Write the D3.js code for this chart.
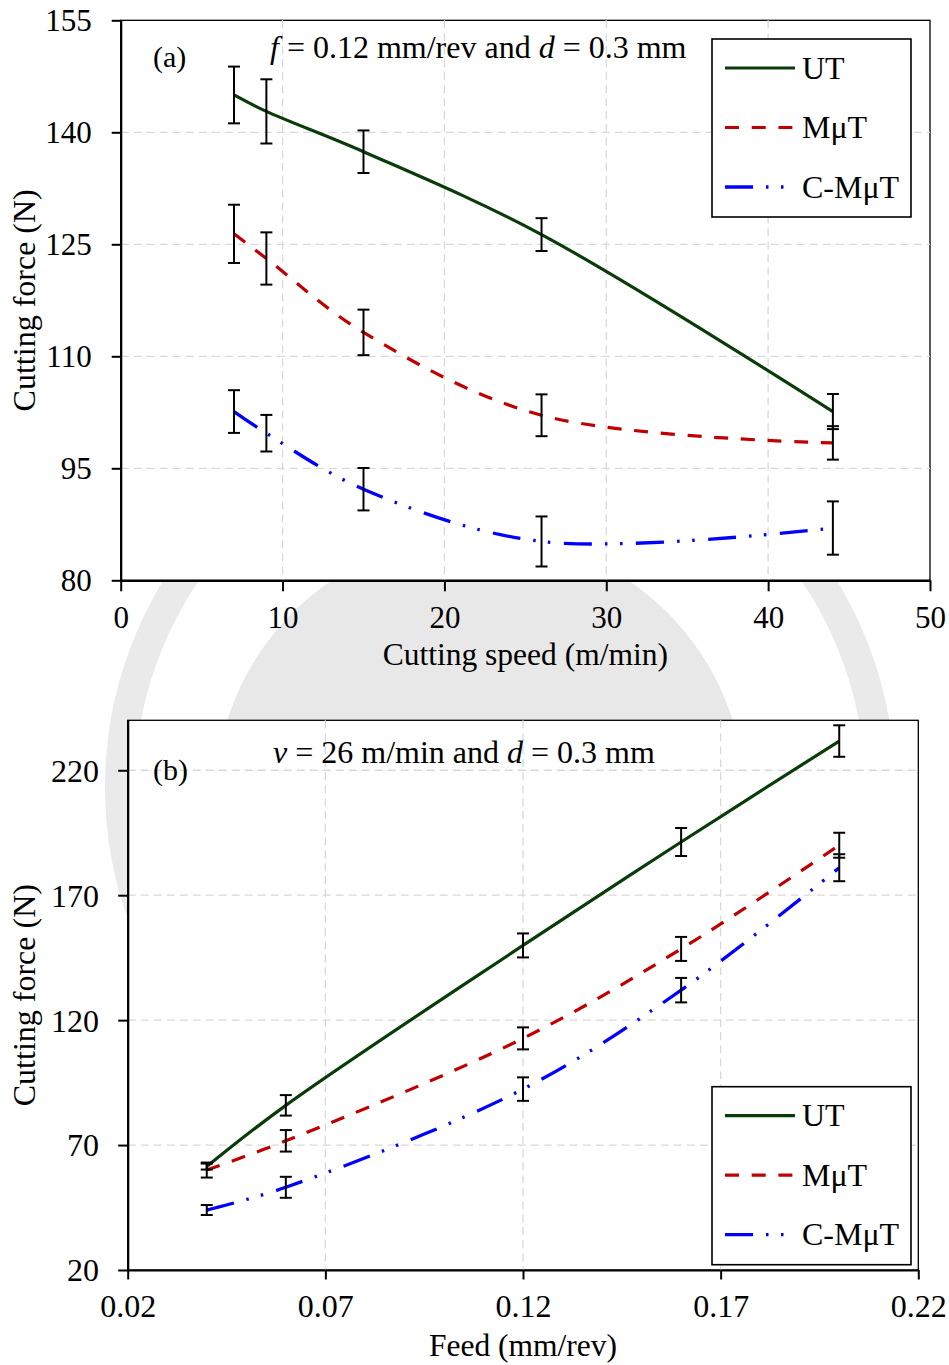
<!DOCTYPE html>
<html lang="en">
<head>
<meta charset="utf-8">
<title>Cutting force vs cutting speed and feed</title>
<script src="https://d3js.org/d3.v7.min.js"></script>
<style>
  body { margin: 0; background: #fff; }
  svg text { font-family: "Liberation Serif", "Times New Roman", serif; fill: #000; white-space: pre; }
  .grid line { stroke: #d9d9d9; stroke-width: 1.3; stroke-dasharray: 8,5; }
  .errbar { stroke: #000; stroke-width: 2; fill: none; }
</style>
</head>
<body>
<script>

// ---- data, panel (a): f = 0.12 mm/rev, d = 0.3 mm ----
var speedA   = [7, 9, 15, 26, 44];
var utA      = [145.0, 142.8, 137.4, 126.3, 102.6];
var utErrA   = [3.8, 4.3, 2.85, 2.2, 2.35];
var mutA     = [126.4, 123.1, 113.2, 102.1, 98.4];
var mutErrA  = [3.9, 3.5, 3.05, 2.8, 2.24];
var cmutA    = [102.6, 99.7, 92.2, 85.2, 87.0];
var cmutErrA = [2.86, 2.45, 2.84, 3.35, 3.57];
var xTicksA  = [0, 10, 20, 30, 40, 50];
var yTicksA  = [80, 95, 110, 125, 140, 155];

// ---- data, panel (b): v = 26 m/min, d = 0.3 mm ----
var feedB    = [0.04, 0.06, 0.12, 0.16, 0.20];
var utB      = [61.4, 85.9, 149.9, 191.3, 231.7];
var utErrB   = [1.2, 4.1, 4.8, 5.6, 6.3];
var mutB     = [60.0, 71.7, 112.7, 148.5, 190.0];
var mutErrB  = [3.0, 4.3, 4.4, 4.8, 5.0];
var cmutB    = [44.0, 53.1, 92.4, 132.0, 181.0];
var cmutErrB = [2.0, 4.2, 4.7, 4.9, 5.4];
var xTicksB  = [0.02, 0.07, 0.12, 0.17, 0.22];
var yTicksB  = [20, 70, 120, 170, 220];

var seriesNames = ["UT", "M\u03bcT", "C-M\u03bcT"];

// line styles
var styles = [
  { color: "#0a3c0a", width: 3.2, dash: null },
  { color: "#c00000", width: 3.2, dash: "14,12.7" },
  { color: "#0000ff", width: 3.3, dash: "28,13,2.5,12.5,2.5,13.5" }
];

var w = 949, h = 1365;

var svg = d3.select("body").append("svg")
  .attr("width", w)
  .attr("height", h);

// faint logo watermark behind the charts
var wm = svg.append("g").attr("class", "watermark");
wm.append("circle")
  .attr("cx", 480).attr("cy", 800).attr("r", 265)
  .style("fill", "#e8e8e8");
wm.append("circle")
  .attr("cx", 500).attr("cy", 787).attr("r", 380)
  .style("fill", "none")
  .style("stroke", "#eaeaea")
  .style("stroke-width", 30);

function drawPanel(p) {
  var xScale = d3.scaleLinear().domain(p.xDomain).range([p.left, p.right]);
  var yScale = d3.scaleLinear().domain(p.yDomain).range([p.bottom, p.top]);

  var g = svg.append("g");

  // white plot area + thin frame
  g.append("rect")
    .attr("x", p.left).attr("y", p.top)
    .attr("width", p.right - p.left).attr("height", p.bottom - p.top)
    .style("fill", "#fff")
    .style("stroke", "#000")
    .style("stroke-width", 1.3);

  // gridlines
  var grid = g.append("g").attr("class", "grid");
  grid.selectAll(".hg")
    .data(p.yTicks.filter(function(d) { return d > p.yDomain[0] && d < p.yDomain[1]; }))
    .enter().append("line")
    .attr("x1", p.left).attr("x2", p.right)
    .attr("y1", function(d) { return yScale(d); })
    .attr("y2", function(d) { return yScale(d); });
  grid.selectAll(".vg")
    .data(p.xTicks.filter(function(d) { return d > p.xDomain[0] + 1e-9 && d < p.xDomain[1] - 1e-9; }))
    .enter().append("line")
    .attr("y1", p.top).attr("y2", p.bottom)
    .attr("x1", function(d) { return xScale(d); })
    .attr("x2", function(d) { return xScale(d); });

  // series lines (smoothed)
  var line = d3.line()
    .x(function(d) { return xScale(d.x); })
    .y(function(d) { return yScale(d.y); })
    .curve(d3.curveCatmullRom.alpha(0.5));

  p.series.forEach(function(s, i) {
    var pts = p.xs.map(function(x, k) { return { x: x, y: s.values[k], e: s.err[k] }; });
    var path = g.append("path")
      .datum(pts)
      .attr("d", line)
      .style("fill", "none")
      .style("stroke", styles[i].color)
      .style("stroke-width", styles[i].width);
    if (styles[i].dash) path.style("stroke-dasharray", styles[i].dash);
  });

  // error bars on top
  p.series.forEach(function(s) {
    var pts = p.xs.map(function(x, k) { return { x: x, y: s.values[k], e: s.err[k] }; });
    var eb = g.append("g").attr("class", "errbar");
    pts.forEach(function(d) {
      var cx = xScale(d.x), y1 = yScale(d.y + d.e), y2 = yScale(d.y - d.e);
      eb.append("line").attr("x1", cx).attr("x2", cx).attr("y1", y1).attr("y2", y2);
      eb.append("line").attr("x1", cx - 6).attr("x2", cx + 6).attr("y1", y1).attr("y2", y1);
      eb.append("line").attr("x1", cx - 6).attr("x2", cx + 6).attr("y1", y2).attr("y2", y2);
    });
  });

  // axes
  var xAxis = d3.axisBottom(xScale)
    .tickValues(p.xTicks)
    .tickSize(p.xTickLen)
    .tickSizeOuter(0)
    .tickFormat(p.xFormat);
  var yAxis = d3.axisLeft(yScale)
    .tickValues(p.yTicks)
    .tickSize(p.yTickLen)
    .tickSizeOuter(0)
    .tickFormat(d3.format("d"));

  var gx = g.append("g")
    .attr("transform", "translate(0," + p.bottom + ")")
    .call(xAxis);
  var gy = g.append("g")
    .attr("transform", "translate(" + p.left + ",0)")
    .call(yAxis);

  [gx, gy].forEach(function(ax) {
    ax.select(".domain").style("stroke", "#000").style("stroke-width", 2.2);
    ax.selectAll(".tick line").style("stroke", "#000").style("stroke-width", 2);
    ax.selectAll(".tick text")
      .style("font-family", "'Liberation Serif', 'Times New Roman', serif")
      .style("font-size", p.tickFont + "px")
      .style("fill", "#000");
  });
  gx.selectAll(".tick text").attr("y", p.xLabelY).attr("dy", null);
  gy.selectAll(".tick text").attr("x", -p.yLabelX).attr("dy", "0.34em");

  // axis titles
  g.append("text")
    .attr("x", (p.left + p.right) / 2)
    .attr("y", p.xTitleY)
    .attr("text-anchor", "middle")
    .style("font-size", "31.5px")
    .text(p.xTitle);

  g.append("text")
    .attr("transform", "translate(35," + ((p.top + p.bottom) / 2) + ") rotate(-90)")
    .attr("text-anchor", "middle")
    .style("font-size", "32px")
    .text("Cutting force (N)");

  // panel tag and condition note
  g.append("text")
    .attr("x", 153).attr("y", p.tagY)
    .style("font-size", "30px")
    .text(p.tag);

  var note = g.append("text")
    .attr("x", p.noteX).attr("y", p.noteY)
    .style("font-size", "32px");
  p.note.forEach(function(part) {
    var t = note.append("tspan").text(part[0]);
    if (part[1]) t.style("font-style", "italic");
  });

  // legend
  var lg = g.append("g").attr("transform", "translate(" + p.legend[0] + "," + p.legend[1] + ")");
  lg.append("rect")
    .attr("width", 199).attr("height", 178)
    .style("fill", "#fff").style("stroke", "#000").style("stroke-width", 1.6);
  seriesNames.forEach(function(name, i) {
    var yy = 29 + i * 59.5;
    var l = lg.append("line")
      .attr("x1", 13).attr("x2", 83)
      .attr("y1", yy).attr("y2", yy)
      .style("stroke", styles[i].color)
      .style("stroke-width", styles[i].width);
    if (styles[i].dash) l.style("stroke-dasharray", styles[i].dash);
    lg.append("text")
      .attr("x", 90).attr("y", yy + 10.5)
      .style("font-size", "32px")
      .text(name);
  });
}

drawPanel({
  left: 120.7, right: 930, top: 20.3, bottom: 580.3,
  xDomain: [0, 50], yDomain: [80, 155],
  xTicks: xTicksA, yTicks: yTicksA,
  xFormat: d3.format("d"),
  xTickLen: 11, yTickLen: 9,
  xLabelY: 47.5, yLabelX: 29,
  tickFont: 31,
  xTitle: "Cutting speed (m/min)", xTitleY: 665,
  tag: "(a)", tagY: 67,
  note: [["f", true], [" = 0.12 mm/rev and ", false], ["d", true], [" = 0.3 mm", false]],
  noteX: 270, noteY: 58,
  legend: [712, 39],
  xs: speedA,
  series: [
    { values: utA, err: utErrA },
    { values: mutA, err: mutErrA },
    { values: cmutA, err: cmutErrA }
  ]
});

drawPanel({
  left: 127.7, right: 918.3, top: 720.3, bottom: 1270,
  xDomain: [0.02, 0.22], yDomain: [20, 240],
  xTicks: xTicksB, yTicks: yTicksB,
  xFormat: d3.format(".2f"),
  xTickLen: 9.5, yTickLen: 9.5,
  xLabelY: 47, yLabelX: 28.7,
  tickFont: 32,
  xTitle: "Feed (mm/rev)", xTitleY: 1356,
  tag: "(b)", tagY: 780,
  note: [["v", true], [" = 26 m/min and ", false], ["d", true], [" = 0.3 mm", false]],
  noteX: 273, noteY: 763,
  legend: [712, 1086.7],
  xs: feedB,
  series: [
    { values: utB, err: utErrB },
    { values: mutB, err: mutErrB },
    { values: cmutB, err: cmutErrB }
  ]
});

</script>
</body>
</html>
